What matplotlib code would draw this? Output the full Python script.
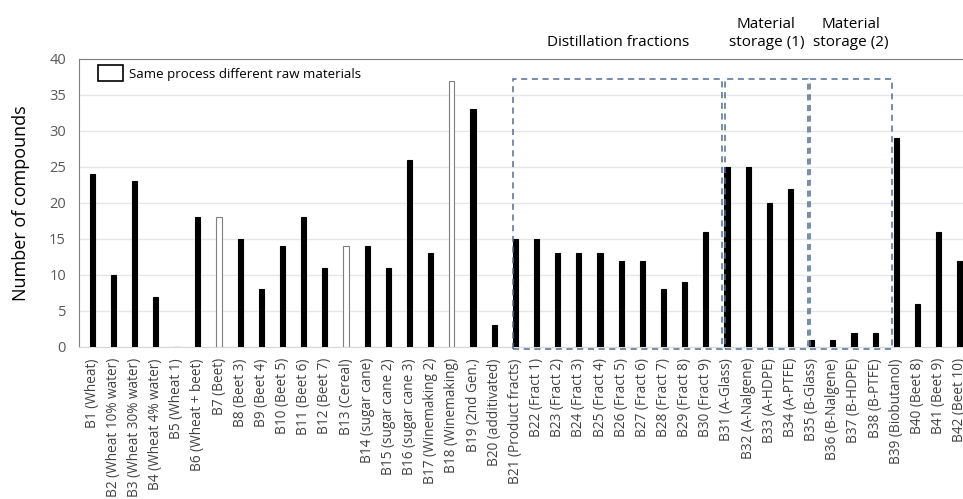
import matplotlib.pyplot as plt
import numpy as np
from matplotlib.patches import Patch, Rectangle
from matplotlib.transforms import blended_transform_factory

plt.rcParams['font.family'] = ['Open Sans', 'DejaVu Sans']

labels = ["B1 (Wheat)", "B2 (Wheat 10% water)", "B3 (Wheat 30% water)", "B4 (Wheat 4% water)",
          "B5 (Wheat 1)", "B6 (Wheat + beet)", "B7 (Beet)", "B8 (Beet 3)", "B9 (Beet 4)",
          "B10 (Beet 5)", "B11 (Beet 6)", "B12 (Beet 7)", "B13 (Cereal)", "B14 (sugar cane)",
          "B15 (sugar cane 2)", "B16 (sugar cane 3)", "B17 (Winemaking 2)", "B18 (Winemaking)",
          "B19 (2nd Gen.)", "B20 (additivated)", "B21 (Product fracts)", "B22 (Fract 1)",
          "B23 (Fract 2)", "B24 (Fract 3)", "B25 (Fract 4)", "B26 (Fract 5)", "B27 (Fract 6)",
          "B28 (Fract 7)", "B29 (Fract 8)", "B30 (Fract 9)", "B31 (A-Glass)", "B32 (A-Nalgene)",
          "B33 (A-HDPE)", "B34 (A-PTFE)", "B35 (B-Glass)", "B36 (B-Nalgene)", "B37 (B-HDPE)",
          "B38 (B-PTFE)", "B39 (Biobutanol)", "B40 (Beet 8)", "B41 (Beet 9)", "B42 (Beet 10)"]
counts = [24, 10, 23, 7, 0, 18, 18, 15, 8, 14, 18, 11, 14, 14, 11, 26, 13, 37, 33, 3,
          15, 15, 13, 13, 13, 12, 12, 8, 9, 16, 25, 25, 20, 22, 1, 1, 2, 2, 29, 6, 16, 12]
# same process, different raw materials (drawn hollow)
hollow = ["B7 (Beet)", "B13 (Cereal)", "B18 (Winemaking)"]

# groups: (first bar, last bar, title)
groups = [(20, 29, "Distillation fractions"),
          (30, 33, "Material\nstorage (1)"),
          (34, 37, "Material\nstorage (2)")]

fig = plt.figure(figsize=(9.63, 4.99), dpi=100)
ax = fig.add_axes([78.5 / 963, 152 / 499, 894 / 963, 288 / 499])

x = np.arange(len(labels))
face = ['white' if l in hollow else 'black' for l in labels]
edge = ['#7f7f7f' if l in hollow else 'black' for l in labels]
ax.bar(x, counts, width=0.24, color=face, edgecolor=edge, linewidth=0.8, zorder=3)

ax.set_xlim(-0.64, 41.6)
ax.set_ylim(0, 40)
ax.set_yticks(np.arange(0, 41, 5))
ax.yaxis.grid(True, color='#e6e6e6', linewidth=1, zorder=0)
ax.set_xticks(x)
ax.set_xticklabels(labels, rotation=90, fontsize=9.8, color='#404040')
ax.tick_params(axis='y', labelsize=10.5, colors='#595959', length=0, pad=9)
ax.tick_params(axis='x', length=0, pad=8)
ax.set_ylabel("Number of compounds", fontsize=13, labelpad=14)

for s in ['top', 'left']:
    ax.spines[s].set_color('#7f7f7f')
ax.spines['bottom'].set_color('#d9d9d9')
ax.spines['right'].set_visible(False)

# dashed group boxes with titles above the frame
trans = blended_transform_factory(ax.transData, ax.transAxes)
for g0, g1, title in groups:
    left = g0 - 0.1
    right = g1 + 0.78 if g1 == 29 else g1 + 0.82
    ax.add_patch(Rectangle((left, -0.3), right - left, 37.5, fill=False,
                           edgecolor='#4f6f8f', linestyle=(0, (4, 3)), linewidth=1.1,
                           clip_on=False, zorder=4))
    ax.text((left + right) / 2, 1.03, title, transform=trans, ha='center', va='bottom',
            fontsize=11, linespacing=1.3)

ax.legend(handles=[Patch(facecolor='white', edgecolor='black', linewidth=1.2)],
          labels=["Same process different raw materials"], loc='upper left',
          bbox_to_anchor=(0.008, 1.02), frameon=False, fontsize=9.5,
          handlelength=1.9, handleheight=1.5, handletextpad=0.5)

plt.savefig("out.png", dpi=100)
